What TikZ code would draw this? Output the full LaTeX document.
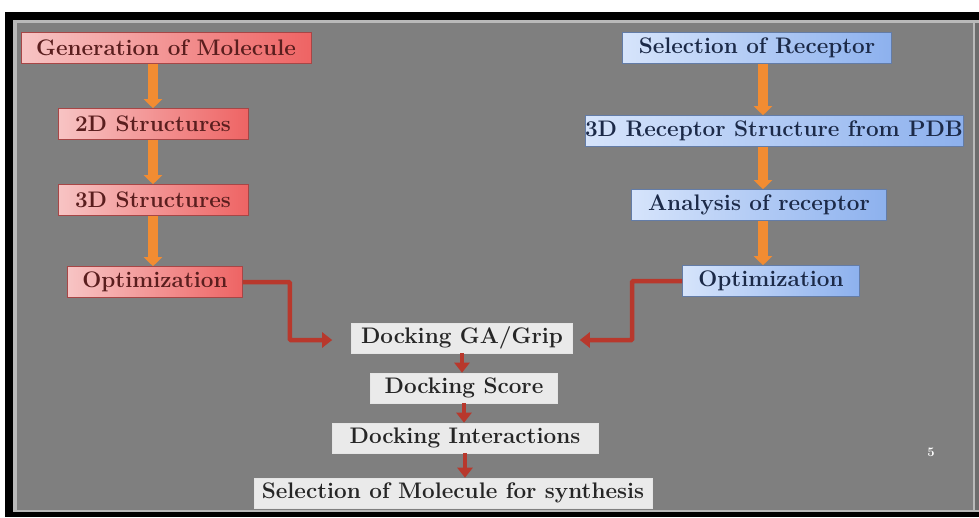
\documentclass[tikz,border=0pt]{standalone}
\usepackage{xcolor}
\usepackage{tikz}
\usetikzlibrary{arrows.meta}
\usetikzlibrary{calc}

\definecolor{slidegray}{HTML}{7F7F7F}
\definecolor{pinklight}{HTML}{F7C4C4}
\definecolor{pinkdark}{HTML}{EE6464}
\definecolor{bluelight}{HTML}{D6E4FB}
\definecolor{bluedark}{HTML}{8DB1EE}
\definecolor{ligtext}{HTML}{5A1E1E}
\definecolor{rectext}{HTML}{1C2A48}
\definecolor{dockfill}{HTML}{EAEAEA}
\definecolor{flowarrow}{HTML}{F28C32}
\definecolor{redarrow}{HTML}{B8382C}

\begin{document}
\begin{tikzpicture}[x=1pt,y=-1pt,
    ligbox/.style={draw=pinkdark!70!black,line width=0.6pt,left color=pinklight,right color=pinkdark,
        text=ligtext,font=\fontsize{22.5}{26}\selectfont\bfseries,minimum height=31pt,inner sep=0pt},
    recbox/.style={draw=bluedark!70!black,line width=0.6pt,left color=bluelight,right color=bluedark,
        text=rectext,font=\fontsize{22.5}{26}\selectfont\bfseries,minimum height=31pt,inner sep=0pt},
    dockbox/.style={fill=dockfill,draw=white!80!gray,line width=0.6pt,text=black!85,
        font=\fontsize{22.5}{26}\selectfont\bfseries,minimum height=30pt,inner sep=0pt},
    fatarrow/.style={flowarrow,line width=10pt,-{Triangle[width=18pt,length=9pt]}},
    redline/.style={redarrow,line width=4.5pt,-{Triangle[width=15pt,length=10pt]}}]

\useasboundingbox (0,0) rectangle (979,517);
% slide frame
\fill[white] (0,0) rectangle (979,517);
\fill[black] (5,12) rectangle (979,517);
\fill[gray!55] (13,20) rectangle (979,512);
\fill[slidegray] (17,23) rectangle (973,510);
\fill[slidegray!85!black] (975,23) rectangle (979,510);

% ligand side
\node[ligbox,minimum width=290pt] at (166,48) (gen) {Generation of Molecule};
\node[ligbox,minimum width=190pt] at (153,124) (s2d) {2D Structures};
\node[ligbox,minimum width=190pt] at (153,200) (s3d) {3D Structures};
\node[ligbox,minimum width=175pt] at (155,282) (optL) {Optimization};

% receptor side
\node[recbox,minimum width=269pt] at (757,48) (selR) {Selection of Receptor};
\node[recbox,minimum width=374pt] at (774,131) (pdb) {3D Receptor Structure from PDB};
\node[recbox,minimum width=255pt] at (759,205) (ana) {Analysis of receptor};
\node[recbox,minimum width=177pt] at (771,281) (optR) {Optimization};

% docking
\node[dockbox,minimum width=221pt] at (462,338) (dga) {Docking GA/Grip};
\node[dockbox,minimum width=187pt] at (464,388) (dsc) {Docking Score};
\node[dockbox,minimum width=266pt] at (465,438) (din) {Docking Interactions};
\node[dockbox,minimum width=398pt] at (453,493) (sel) {Selection of Molecule for synthesis};

\node[white,font=\fontsize{13}{15}\selectfont\bfseries] at (931,452) (page) {5};

% orange arrows
\draw[fatarrow] (gen.south -| s2d.north) -- (s2d.north);
\draw[fatarrow] (s2d.south) -- (s3d.north);
\draw[fatarrow] (s3d.south) -- (s3d.south |- optL.north);
\draw[fatarrow] ($(selR.south)+(6,0)$) -- ($(selR.south |- pdb.north)+(6,0)$);
\draw[fatarrow] ($(pdb.south -| ana.north)+(4,0)$) -- ($(ana.north)+(4,0)$);
\draw[fatarrow] ($(ana.south)+(4,0)$) -- ($(ana.south |- optR.north)+(4,0)$);

% red connectors
\draw[redline,rounded corners=1pt] (optL.east) -- ++(47,0) |- ($(dga.west)+(-19,2)$);
\draw[redline,rounded corners=1pt] (optR.west) -- ++(-50,0) |- ($(dga.east)+(7,2)$);
\draw[redline] (dga.south) -- (dga.south |- dsc.north);
\draw[redline] (dsc.south) -- (dsc.south |- din.north);
\draw[redline] (din.south) -- (din.south |- sel.north);

\end{tikzpicture}
\end{document}
